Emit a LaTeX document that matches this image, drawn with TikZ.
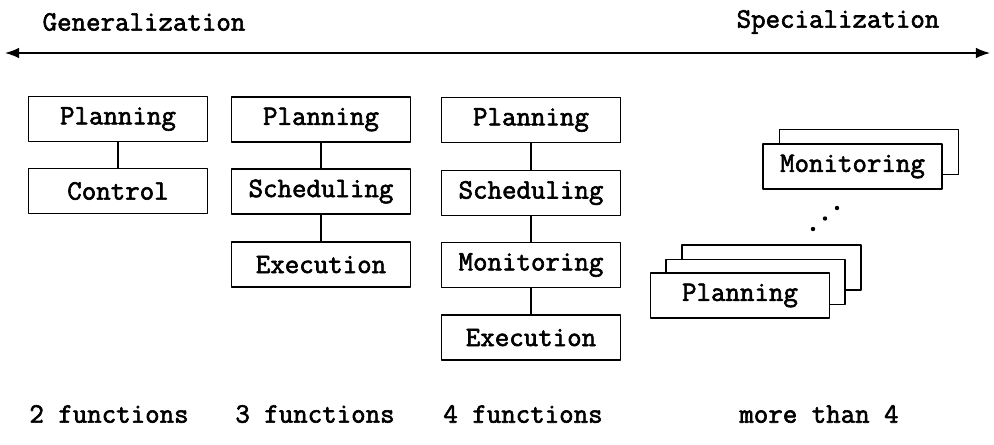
\documentclass[tikz,border=0pt]{standalone}
\usepackage{fontspec}
\setmainfont{Latin Modern Mono}[AutoFakeBold=2.2]
\usetikzlibrary{arrows.meta}
\usetikzlibrary{positioning}
\tikzset{
  func/.style={draw, fill=white, line width=0.6pt, minimum width=3.58cm, minimum height=0.9cm, inner sep=0pt, font=\fontsize{16}{18}\selectfont\bfseries},
  lbl/.style={font=\fontsize{16}{18}\selectfont\bfseries, inner sep=0pt},
  link/.style={line width=0.6pt}
}
\begin{document}
\begin{tikzpicture}[x=0.02cm, y=-0.02cm, line cap=round, line join=round]
\useasboundingbox (0,0) rectangle (994,444);
\coordinate (gen) at (5,53);
\coordinate (spec) at (990,53);
\draw [line width=0.8pt, {Latex[length=8pt, width=6pt]}-{Latex[length=8pt, width=6pt]}] (gen) -- (spec);
\node[lbl] (tgen) at (144,22) {Generalization};
\node[lbl] (tspec) at (838,22) {Specialization};
% two functions
\node[func] (pa) at (118,119) {Planning};
\node[func] (ca) at (118,191) {Control};
\draw [link] (pa) -- (ca);
% three functions
\node[func] (pb) at (321,119.5) {Planning};
\node[func] (sb) at (321,191.5) {Scheduling};
\node[func] (eb) at (321,264.5) {Execution};
\draw [link] (pb) -- (sb);
\draw [link] (sb) -- (eb);
% four functions
\node[func] (pc) at (531,120) {Planning};
\node[func] (sc) at (531,193) {Scheduling};
\node[func] (mc) at (531,265) {Monitoring};
\node[func] (ec) at (531,337.5) {Execution};
\draw [link] (pc) -- (sc);
\draw [link] (sc) -- (mc);
\draw [link] (mc) -- (ec);
% more than four
\node[func] (md2) at (869,152) {};
\node[func] (md) at (852.5,166.5) {Monitoring};
\node[func] (pd3) at (771.5,267.5) {};
\node[func] (pd2) at (755.5,282) {};
\node[func] (pd) at (740,295.5) {Planning};
\foreach \p in {(813,229),(825,218.5),(837,208)}
  \fill \p circle (2.2);
% counts
\node[lbl] (na) at (109,414) {2 functions};
\node[lbl] (nb) at (315,414) {3 functions};
\node[lbl] (nc) at (523,414) {4 functions};
\node[lbl] (nd) at (819,414) {more than 4};
\end{tikzpicture}
\end{document}
